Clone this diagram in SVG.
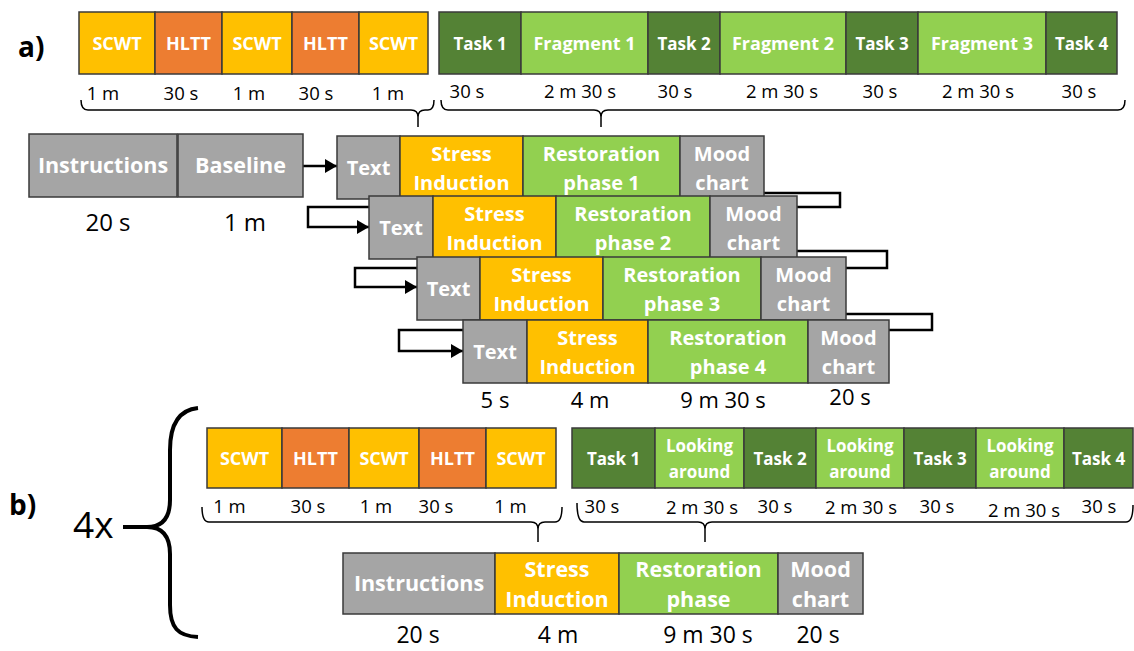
<svg xmlns="http://www.w3.org/2000/svg" width="1134" height="651" viewBox="0 0 1134 651">
<style>
.b{stroke:#3a3a3a;stroke-width:1.5}
.y{fill:#FFC000}.o{fill:#ED7D31}.dg{fill:#548235}.lg{fill:#92D050}.g{fill:#A5A5A5}
text{font-family:"Open Sans","Liberation Sans",sans-serif}
.l{font-weight:700;fill:#fff;text-anchor:middle}
.s18{font-size:18px}.s17{font-size:17px}.s20{font-size:20px}.s21{font-size:21.5px}
.d{fill:#000;text-anchor:middle;font-size:18.5px}
.D{fill:#000;text-anchor:middle;font-size:24px}
.br{fill:none;stroke:#000;stroke-width:1.5}
.cn{fill:none;stroke:#000;stroke-width:2.5}
</style>
<defs>
<marker id="ah" markerUnits="userSpaceOnUse" markerWidth="12" markerHeight="14" refX="12" refY="7" orient="auto">
<path d="M0,0 L12,7 L0,14 Z" fill="#000"/>
</marker>
</defs>

<text x="18" y="57" style="font-size:28px;font-weight:700">a)</text>
<text x="9" y="515" style="font-size:28px;font-weight:700">b)</text>
<text x="73" y="538" style="font-size:37px">4x</text>

<!-- top a row -->
<g id="a-scwt1"><rect class="b y" x="79" y="12" width="76" height="62"/><text class="l s18" x="117" y="50">SCWT</text></g>
<g id="a-hltt1"><rect class="b o" x="155" y="12" width="67" height="62"/><text class="l s18" x="188.5" y="50">HLTT</text></g>
<g id="a-scwt2"><rect class="b y" x="222" y="12" width="70" height="62"/><text class="l s18" x="257" y="50">SCWT</text></g>
<g id="a-hltt2"><rect class="b o" x="292" y="12" width="67" height="62"/><text class="l s18" x="325.5" y="50">HLTT</text></g>
<g id="a-scwt3"><rect class="b y" x="359" y="12" width="69" height="62"/><text class="l s18" x="393.5" y="50">SCWT</text></g>

<g id="a-task1"><rect class="b dg" x="439" y="12" width="82" height="62"/><text class="l s17" x="480" y="50">Task 1</text></g>
<g id="a-frag1"><rect class="b lg" x="521" y="12" width="127" height="62"/><text class="l s18" x="584.5" y="50">Fragment 1</text></g>
<g id="a-task2"><rect class="b dg" x="648" y="12" width="72" height="62"/><text class="l s17" x="684" y="50">Task 2</text></g>
<g id="a-frag2"><rect class="b lg" x="720" y="12" width="126" height="62"/><text class="l s18" x="783" y="50">Fragment 2</text></g>
<g id="a-task3"><rect class="b dg" x="846" y="12" width="72" height="62"/><text class="l s17" x="882" y="50">Task 3</text></g>
<g id="a-frag3"><rect class="b lg" x="918" y="12" width="128" height="62"/><text class="l s18" x="982" y="50">Fragment 3</text></g>
<g id="a-task4"><rect class="b dg" x="1046" y="12" width="71" height="62"/><text class="l s17" x="1081.5" y="50">Task 4</text></g>

<g id="a-durations">
<text class="d" x="103" y="100">1 m</text><text class="d" x="181" y="100">30 s</text><text class="d" x="249" y="100">1 m</text><text class="d" x="316" y="100">30 s</text><text class="d" x="388" y="100">1 m</text>
<text class="d" x="467" y="98">30 s</text><text class="d" x="580" y="98">2 m 30 s</text><text class="d" x="675" y="98">30 s</text><text class="d" x="782" y="98">2 m 30 s</text><text class="d" x="880" y="98">30 s</text><text class="d" x="978" y="98">2 m 30 s</text><text class="d" x="1079" y="98">30 s</text>
</g>

<!-- connectors -->
<g id="connectors">
<path class="br" d="M81,100 Q81,110 88,110 H411 Q418,110 418,117 V127 M418,117 Q418,110 425,110 H428 Q434,110 434,100"/>
<path class="br" d="M441,100 Q441,110 448,110 H594 Q601,110 601,117 V127 M601,117 Q601,110 608,110 H1118 Q1125,110 1125,100"/>
<path class="br" d="M202,507 Q202,522 209,522 H531 Q538,522 538,529 V542 M538,529 Q538,522 545,522 H555 Q562,522 562,507"/>
<path class="br" d="M577,503 Q577,522 584,522 H698 Q705,522 705,529 V542 M705,529 Q705,522 712,522 H1126 Q1133,522 1133,505"/>
<path class="cn" d="M303,166 H337" marker-end="url(#ah)"/>
<path class="cn" d="M760,193 H840 V207 H308 V227 H369" marker-end="url(#ah)"/>
<path class="cn" d="M793,251 H887 V268 H355 V287 H417" marker-end="url(#ah)"/>
<path class="cn" d="M842,314 H932 V330 H399 V351 H463" marker-end="url(#ah)"/>
<path fill="none" stroke="#000" stroke-width="4" d="M198,408 C178,410 170,425 170,450 V500 C170,518 162,527 147,527 C162,527 170,536 170,554 V605 C170,628 178,636 198,637 M123,527 H147"/>
</g>

<!-- stacked a -->
<g id="instructions-a"><rect class="b g" x="29" y="134" width="148" height="63"/><text class="l s21" x="103" y="173">Instructions</text></g>
<g id="baseline-a"><rect class="b g" x="178" y="134" width="125" height="63"/><text class="l s21" x="240.5" y="173">Baseline</text></g>
<text class="D" x="108" y="231">20 s</text><text class="D" x="245" y="231">1 m</text>

<g id="r1-text"><rect class="b g" x="337" y="136" width="63" height="63"/><text class="l s20" x="368.5" y="175">Text</text></g>
<g id="r1-stress"><rect class="b y" x="400" y="136" width="123" height="63"/><text class="l s20" x="461.5" y="161">Stress</text><text class="l s20" x="461.5" y="190">Induction</text></g>
<g id="r1-rest"><rect class="b lg" x="523" y="136" width="157" height="63"/><text class="l s20" x="601.5" y="161">Restoration</text><text class="l s20" x="601.5" y="190">phase 1</text></g>
<g id="r1-mood"><rect class="b g" x="680" y="136" width="84" height="63"/><text class="l s20" x="722" y="161">Mood</text><text class="l s20" x="722" y="190">chart</text></g>

<g id="r2-text"><rect class="b g" x="369" y="196" width="64" height="63"/><text class="l s20" x="401" y="235">Text</text></g>
<g id="r2-stress"><rect class="b y" x="433" y="196" width="123" height="63"/><text class="l s20" x="494.5" y="221">Stress</text><text class="l s20" x="494.5" y="250">Induction</text></g>
<g id="r2-rest"><rect class="b lg" x="556" y="196" width="154" height="63"/><text class="l s20" x="633" y="221">Restoration</text><text class="l s20" x="633" y="250">phase 2</text></g>
<g id="r2-mood"><rect class="b g" x="710" y="196" width="87" height="63"/><text class="l s20" x="753.5" y="221">Mood</text><text class="l s20" x="753.5" y="250">chart</text></g>

<g id="r3-text"><rect class="b g" x="417" y="257" width="63" height="63"/><text class="l s20" x="448.5" y="296">Text</text></g>
<g id="r3-stress"><rect class="b y" x="480" y="257" width="123" height="63"/><text class="l s20" x="541.5" y="282">Stress</text><text class="l s20" x="541.5" y="311">Induction</text></g>
<g id="r3-rest"><rect class="b lg" x="603" y="257" width="158" height="63"/><text class="l s20" x="682" y="282">Restoration</text><text class="l s20" x="682" y="311">phase 3</text></g>
<g id="r3-mood"><rect class="b g" x="761" y="257" width="85" height="63"/><text class="l s20" x="803.5" y="282">Mood</text><text class="l s20" x="803.5" y="311">chart</text></g>

<g id="r4-text"><rect class="b g" x="463" y="320" width="64" height="63"/><text class="l s20" x="495" y="359">Text</text></g>
<g id="r4-stress"><rect class="b y" x="527" y="320" width="121" height="63"/><text class="l s20" x="587.5" y="345">Stress</text><text class="l s20" x="587.5" y="374">Induction</text></g>
<g id="r4-rest"><rect class="b lg" x="648" y="320" width="160" height="63"/><text class="l s20" x="728" y="345">Restoration</text><text class="l s20" x="728" y="374">phase 4</text></g>
<g id="r4-mood"><rect class="b g" x="808" y="320" width="81" height="63"/><text class="l s20" x="848.5" y="345">Mood</text><text class="l s20" x="848.5" y="374">chart</text></g>
<text class="D" x="495" y="408" style="font-size:22px">5 s</text><text class="D" x="590" y="408" style="font-size:22px">4 m</text><text class="D" x="723" y="408" style="font-size:22px">9 m 30 s</text><text class="D" x="850" y="405" style="font-size:22px">20 s</text>

<!-- b row -->
<g id="b-scwt1"><rect class="b y" x="207" y="428" width="75" height="60"/><text class="l s18" x="244.5" y="465">SCWT</text></g>
<g id="b-hltt1"><rect class="b o" x="282" y="428" width="67" height="60"/><text class="l s18" x="315.5" y="465">HLTT</text></g>
<g id="b-scwt2"><rect class="b y" x="349" y="428" width="70" height="60"/><text class="l s18" x="384" y="465">SCWT</text></g>
<g id="b-hltt2"><rect class="b o" x="419" y="428" width="67" height="60"/><text class="l s18" x="452.5" y="465">HLTT</text></g>
<g id="b-scwt3"><rect class="b y" x="486" y="428" width="70" height="60"/><text class="l s18" x="521" y="465">SCWT</text></g>

<g id="b-task1"><rect class="b dg" x="572" y="428" width="83" height="60"/><text class="l s17" x="613.5" y="465">Task 1</text></g>
<g id="b-look1"><rect class="b lg" x="655" y="428" width="89" height="60"/><text class="l s17" x="699.5" y="452">Looking</text><text class="l s17" x="699.5" y="478">around</text></g>
<g id="b-task2"><rect class="b dg" x="744" y="428" width="72" height="60"/><text class="l s17" x="780" y="465">Task 2</text></g>
<g id="b-look2"><rect class="b lg" x="816" y="428" width="88" height="60"/><text class="l s17" x="860" y="452">Looking</text><text class="l s17" x="860" y="478">around</text></g>
<g id="b-task3"><rect class="b dg" x="904" y="428" width="72" height="60"/><text class="l s17" x="940" y="465">Task 3</text></g>
<g id="b-look3"><rect class="b lg" x="976" y="428" width="88" height="60"/><text class="l s17" x="1020" y="452">Looking</text><text class="l s17" x="1020" y="478">around</text></g>
<g id="b-task4"><rect class="b dg" x="1064" y="428" width="69" height="60"/><text class="l s17" x="1098.5" y="465">Task 4</text></g>

<g id="b-durations">
<text class="d" x="229.5" y="513">1 m</text><text class="d" x="308" y="513">30 s</text><text class="d" x="376" y="513">1 m</text><text class="d" x="436" y="513">30 s</text><text class="d" x="510.5" y="513">1 m</text>
<text class="d" x="602" y="513">30 s</text><text class="d" x="702" y="514">2 m 30 s</text><text class="d" x="775" y="513">30 s</text><text class="d" x="861" y="514">2 m 30 s</text><text class="d" x="937" y="513">30 s</text><text class="d" x="1024" y="517">2 m 30 s</text><text class="d" x="1099" y="513">30 s</text>
</g>

<g id="b-instructions"><rect class="b g" x="343" y="553" width="152" height="61"/><text class="l s21" x="419" y="591">Instructions</text></g>
<g id="b-stress"><rect class="b y" x="495" y="553" width="124" height="61"/><text class="l s21" x="557" y="577">Stress</text><text class="l s21" x="557" y="607">Induction</text></g>
<g id="b-rest"><rect class="b lg" x="619" y="553" width="159" height="61"/><text class="l s21" x="698.5" y="577">Restoration</text><text class="l s21" x="698.5" y="607">phase</text></g>
<g id="b-mood"><rect class="b g" x="778" y="553" width="85" height="61"/><text class="l s21" x="820.5" y="577">Mood</text><text class="l s21" x="820.5" y="607">chart</text></g>
<text class="D" x="418" y="643" style="font-size:23px">20 s</text><text class="D" x="558" y="643" style="font-size:23px">4 m</text><text class="D" x="708" y="643" style="font-size:23px">9 m 30 s</text><text class="D" x="818" y="643" style="font-size:23px">20 s</text>
</svg>
